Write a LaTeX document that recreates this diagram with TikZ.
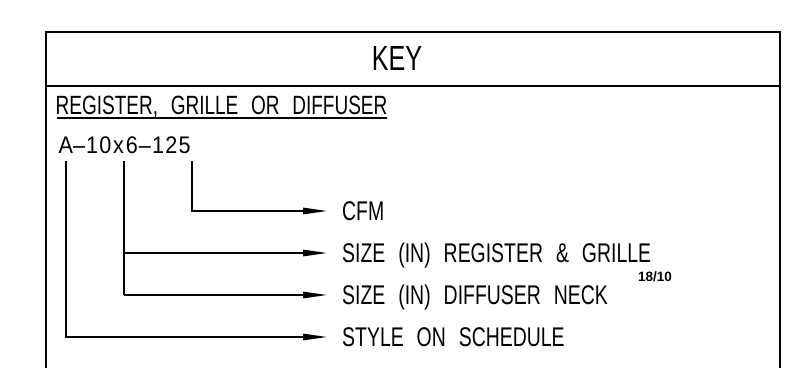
\documentclass[tikz,border=0pt]{standalone}
\usepackage{fontspec}
\setmainfont[FakeStretch=0.72,WordSpace=2.4]{Liberation Sans}
\newfontfamily\codefont[FakeStretch=0.9]{Liberation Sans}
\newfontfamily\plainfont{Liberation Sans}
\usetikzlibrary{arrows.meta}
\newcommand\cch[1]{\makebox[13.2pt]{#1}}
\begin{document}
\begin{tikzpicture}[x=1pt,y=1pt,
  border/.style={line width=2pt},
  conn/.style={line width=1.4pt},
  arr/.style={conn,-{Triangle[length=24pt,width=6.5pt]}},
  lbl/.style={inner sep=0pt,anchor=west,text height=19pt,text depth=0pt,font=\fontsize{27pt}{30pt}\selectfont}]
\useasboundingbox (0,0) rectangle (796,368);
% frame
\draw[border] (46,0) -- (46,336) -- (780,336) -- (780,0);
\draw[border] (46,282) -- (780,282);
% title
\node[inner sep=0pt,anchor=base,font=\fontsize{34.9pt}{38pt}\selectfont] (key) at (397,298) {KEY};
% header
\node[inner sep=0pt,anchor=base west,font=\fontsize{26.4pt}{28pt}\selectfont] (hdr) at (55.5,254) {REGISTER, GRILLE OR DIFFUSER};
\draw[line width=1.3pt] ([xshift=1.5pt,yshift=-4pt]hdr.base west) -- ([xshift=-0.5pt,yshift=-4pt]hdr.base east);
% code
\node[inner sep=0pt,anchor=base west,font=\codefont\fontsize{24pt}{26pt}\selectfont] (code) at (59,215)
  {\cch{A}\cch{–}\cch{1}\cch{0}\cch{x}\cch{6}\cch{–}\cch{1}\cch{2}\cch{5}};
\coordinate (cA) at (66,207);
\coordinate (cS) at (124,207);
\coordinate (cC) at (192,207);
% labels
\node[lbl] (cfm) at (342,157) {CFM};
\node[lbl] (reg) at (342,115) {SIZE (IN) REGISTER \& GRILLE};
\node[lbl] (dif) at (342,73) {SIZE (IN) DIFFUSER NECK};
\node[lbl] (sty) at (342,31) {STYLE ON SCHEDULE};
\node[inner sep=0pt,anchor=base west,font=\plainfont\bfseries\fontsize{13.5pt}{15pt}\selectfont] (note) at (638,87) {18/10};
% connectors
\draw[arr] (cC) |- ([xshift=-15pt]cfm.west);
\draw[conn] (cS) -- (cS |- dif.west);
\draw[arr] (cS |- reg.west) -- ([xshift=-15pt]reg.west);
\draw[arr] (cS |- dif.west) -- ([xshift=-15pt]dif.west);
\draw[arr] (cA) |- ([xshift=-15pt]sty.west);
\end{tikzpicture}
\end{document}
